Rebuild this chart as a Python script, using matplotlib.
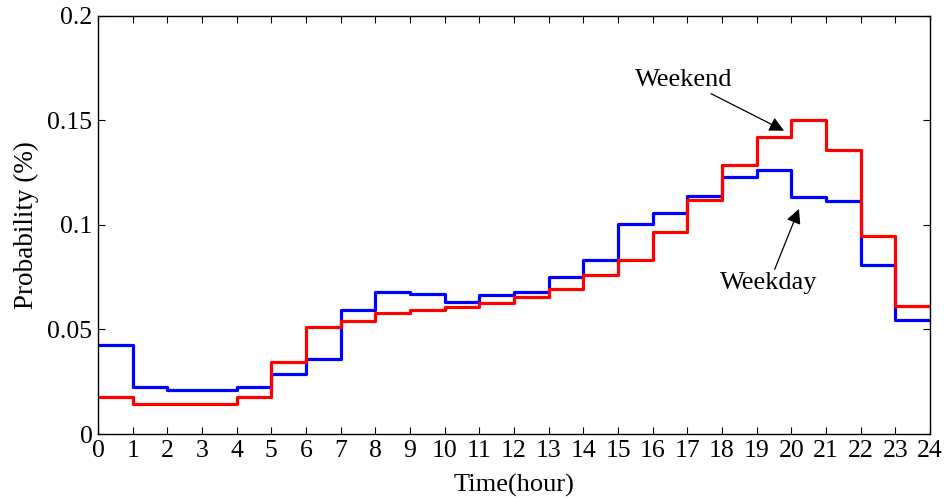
#!/usr/bin/env python3
"""
Hourly trip-start probability, weekday vs. weekend, as step curves.
"""

import matplotlib
matplotlib.use("Agg")
import matplotlib.pyplot as plt
import numpy as np

hours = list(range(25))

# probability for each one-hour slot (0-1, 1-2, ..., 23-24)
weekday = [0.0426, 0.0223, 0.0211, 0.0211, 0.0223, 0.0287, 0.0359, 0.0593,
           0.0680, 0.0668, 0.0633, 0.0664, 0.0679, 0.0750, 0.0833, 0.1003,
           0.1056, 0.1140, 0.1228, 0.1263, 0.1136, 0.1115, 0.0809, 0.0545]
weekend = [0.0177, 0.0142, 0.0142, 0.0142, 0.0177, 0.0346, 0.0510, 0.0542,
           0.0577, 0.0593, 0.0608, 0.0628, 0.0657, 0.0692, 0.0759, 0.0833,
           0.0967, 0.1120, 0.1286, 0.1420, 0.1500, 0.1357, 0.0949, 0.0612]

y_ticks = [0, 0.05, 0.1, 0.15, 0.2]
y_tick_labels = ["0", "0.05", "0.1", "0.15", "0.2"]


def main():
    plt.rcParams["font.family"] = ["Liberation Serif", "DejaVu Serif"]

    fig = plt.figure(figsize=(9.46, 4.98), dpi=100)
    ax = fig.add_axes([0.1036, 0.1285, 0.8795, 0.8395])

    # repeat the last value so the final slot gets drawn out to hour 24
    ax.step(hours, weekday + weekday[-1:], where="post", color="#0000ff", lw=2.3)
    ax.step(hours, weekend + weekend[-1:], where="post", color="#ff0000", lw=2.3)

    ax.set_xlim(0, 24)
    ax.set_ylim(0, 0.2)
    ax.set_xticks(hours)
    ax.set_yticks(y_ticks)
    ax.set_yticklabels(y_tick_labels)
    ax.tick_params(direction="in", top=True, right=True, length=5,
                   width=0.8, labelsize=18.5, pad=4)
    for spine in ax.spines.values():
        spine.set_linewidth(1.0)

    ax.set_xlabel("Time(hour)", fontsize=19, labelpad=9)
    ax.set_ylabel("Probability (%)", fontsize=19.5, labelpad=6)

    arrow = dict(arrowstyle="-|>", color="k", lw=0.9, mutation_scale=22,
                 shrinkA=0, shrinkB=0)
    ax.annotate("Weekend", xy=(19.79, 0.1451), xytext=(16.9, 0.1694),
                ha="center", va="center", fontsize=19, arrowprops=arrow)
    ax.annotate("Weekday", xy=(20.22, 0.1077), xytext=(19.36, 0.0722),
                ha="center", va="center", fontsize=19, arrowprops=arrow)

    fig.savefig("out.png", dpi=100)
    plt.close(fig)


if __name__ == "__main__":
    main()
